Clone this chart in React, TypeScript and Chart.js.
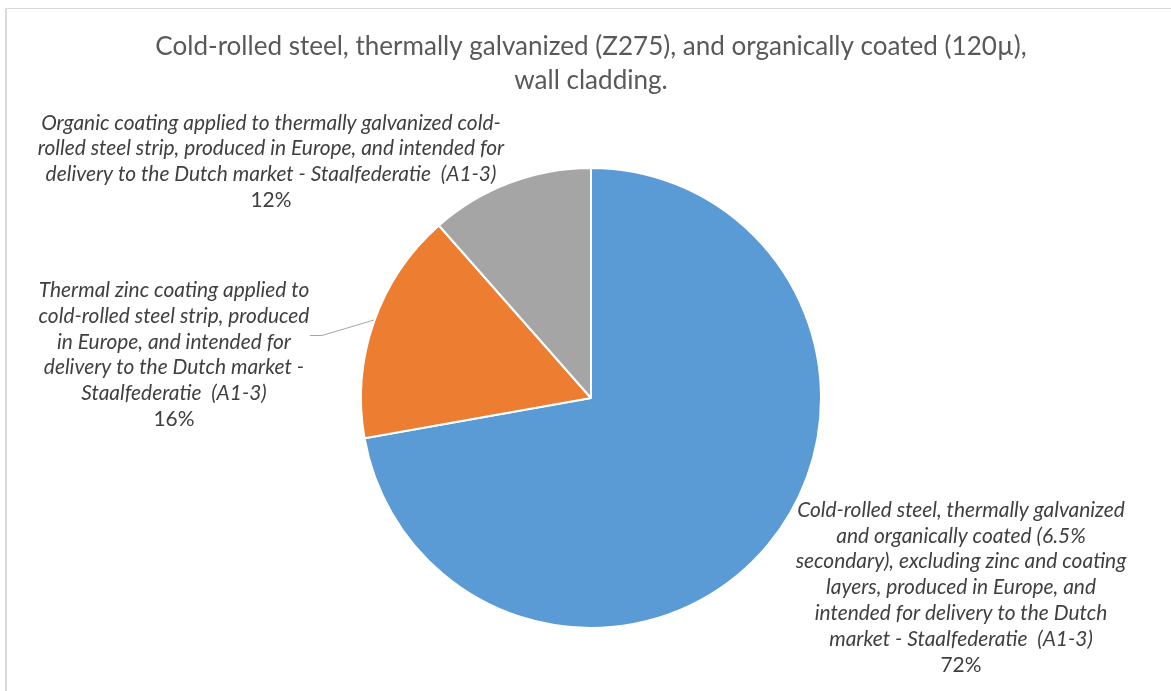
import React, { useEffect, useRef } from "react";
import { Chart, registerables } from "chart.js";

Chart.register(...registerables);

const titleLines = [
  "Cold-rolled steel, thermally galvanized (Z275), and organically coated (120µ),",
  "wall cladding.",
];

const categories = [
  "Cold-rolled steel, thermally galvanized and organically coated (6.5% secondary), excluding zinc and coating layers, produced in Europe, and intended for delivery to the Dutch market - Staalfederatie  (A1-3)",
  "Thermal zinc coating applied to cold-rolled steel strip, produced in Europe, and intended for delivery to the Dutch market - Staalfederatie  (A1-3)",
  "Organic coating applied to thermally galvanized cold-rolled steel strip, produced in Europe, and intended for delivery to the Dutch market - Staalfederatie  (A1-3)",
];

const values = [72.2, 16.3, 11.5];
const percentLabels = ["72%", "16%", "12%"];

const labelLines = [
  [
    "Cold-rolled steel, thermally galvanized",
    "and organically coated (6.5%",
    "secondary), excluding zinc and coating",
    "layers, produced in Europe, and",
    "intended for delivery to the Dutch",
    "market - Staalfederatie  (A1-3)",
  ],
  [
    "Thermal zinc coating applied to",
    "cold-rolled steel strip, produced",
    "in Europe, and intended for",
    "delivery to the Dutch market -",
    "Staalfederatie  (A1-3)",
  ],
  [
    "Organic coating applied to thermally galvanized cold-",
    "rolled steel strip, produced in Europe, and intended for",
    "delivery to the Dutch market - Staalfederatie  (A1-3)",
  ],
];

const colors = ["#5b9bd5", "#ed7d31", "#a5a5a5"];

const FONT = "Lato, 'Noto Sans', sans-serif";

const labelPlugin = {
  id: "customLabels",
  afterDraw(chart: any) {
    const ctx = chart.ctx as CanvasRenderingContext2D;
    ctx.save();
    // title
    ctx.font = `20px ${FONT}`;
    const tw = ctx.measureText(titleLines[0]).width;
    const tSize = (20 * 872) / tw;
    ctx.font = `${tSize}px ${FONT}`;
    ctx.fillStyle = "#595959";
    ctx.textAlign = "center";
    ctx.textBaseline = "middle";
    ctx.fillText(titleLines[0], 591, 47);
    ctx.fillText(titleLines[1], 591, 81);

    // label font size
    ctx.font = `italic 18px ${FONT}`;
    const lw = ctx.measureText(labelLines[0][0]).width;
    const lSize = (18 * 328) / lw;
    const placements = [
      { x: 961, y: 510, step: 25.8 },
      { x: 174, y: 290, step: 25.9 },
      { x: 271, y: 123, step: 25.7 },
    ];
    ctx.fillStyle = "#404040";
    labelLines.forEach((lines, i) => {
      const p = placements[i];
      ctx.font = `italic ${lSize}px ${FONT}`;
      lines.forEach((ln, j) => ctx.fillText(ln, p.x, p.y + j * p.step));
      ctx.font = `${lSize}px ${FONT}`;
      ctx.fillText(percentLabels[i], p.x, p.y + lines.length * p.step);
    });

    // leader line for orange slice
    ctx.strokeStyle = "#a6a6a6";
    ctx.lineWidth = 1;
    ctx.beginPath();
    ctx.moveTo(310, 335.5);
    ctx.lineTo(322, 335.5);
    ctx.lineTo(374, 320);
    ctx.stroke();
    ctx.restore();
  },
};

export default function App() {
  const ref = useRef<HTMLCanvasElement>(null);
  useEffect(() => {
    if (!ref.current) return;
    const chart = new Chart(ref.current, {
      type: "pie",
      data: {
        labels: categories,
        datasets: [
          {
            data: values,
            backgroundColor: colors,
            borderColor: "#ffffff",
            borderWidth: 2,
            hoverOffset: 0,
          },
        ],
      },
      options: {
        animation: false,
        responsive: false,
        events: [],
        layout: { padding: { top: 167, bottom: 62, left: 11, right: 0 } },
        plugins: {
          legend: { display: false },
          title: { display: false },
          tooltip: { enabled: false },
        },
      },
      plugins: [labelPlugin],
    });
    return () => chart.destroy();
  }, []);
  return (
    <div style={{ position: "fixed", left: 0, top: 0, width: 1171, height: 691, background: "#fff" }}>
      <div
        style={{
          position: "absolute",
          left: 5,
          top: 8,
          width: 1166,
          height: 683,
          borderLeft: "2px solid #d9d9d9",
          borderTop: "1px solid #d9d9d9",
          boxSizing: "border-box",
        }}
      />
      <canvas ref={ref} width={1171} height={691} style={{ position: "absolute", left: 0, top: 0 }} />
    </div>
  );
}
